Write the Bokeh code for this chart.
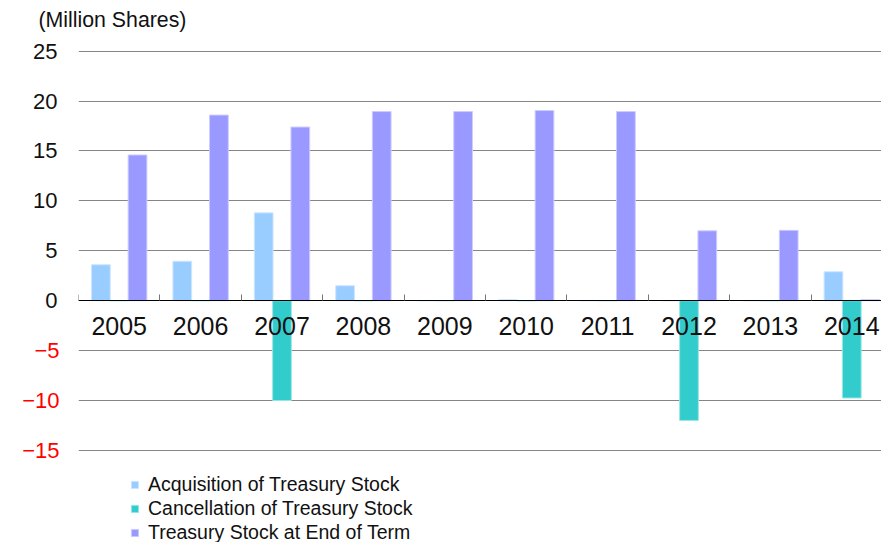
from bokeh.plotting import figure
from bokeh.models import (Range1d, FixedTicker, LinearAxis, Legend, LegendItem, Title,
                          ColumnDataSource, Grid, CustomJSTickFormatter)
from bokeh.transform import dodge
from bokeh.embed import file_html
from bokeh.resources import INLINE

years = ["2005", "2006", "2007", "2008", "2009", "2010", "2011", "2012", "2013", "2014"]
acquisition = [3.6, 3.95, 8.8, 1.5, 0.0, 0.1, 0.0, 0.0, 0.0, 2.9]
cancellation = [0.0, 0.0, -10.0, 0.0, 0.0, 0.0, 0.0, -12.0, 0.0, -9.75]
treasury_end = [14.6, 18.6, 17.4, 18.95, 18.95, 19.05, 18.95, 7.0, 7.05, 0.1]
y_ticks_pos = [0, 5, 10, 15, 20, 25]
y_ticks_neg = [-15, -10, -5]
unit_label = "(Million Shares)"
series_names = ["Acquisition of Treasury Stock", "Cancellation of Treasury Stock",
                "Treasury Stock at End of Term"]
colors = ["#99CCFF", "#33CCCC", "#9999FF"]
edge_colors = ["#CCE6FF", "#99E6E6", "#CCCCFF"]

n = len(years)
xc = [i + 0.5 for i in range(n)]
src = ColumnDataSource(dict(x=xc, acq=acquisition, can=cancellation, tre=treasury_end))

p = figure(width=881, height=542, x_range=Range1d(0, 9.865), y_range=Range1d(-24.23, 25.17),
           output_backend="svg", toolbar_location=None,
           x_axis_location=None, y_axis_location=None,
           min_border_left=78, min_border_right=0, min_border_top=49, min_border_bottom=0)
p.outline_line_color = None
p.center = []
p.title = None

# spacer (nearest to the frame), then the unit label above it
p.add_layout(Title(text=" ", text_font_size="1px", standoff=15), "above")
p.add_layout(Title(text=unit_label, text_font="Liberation Sans", text_font_size="21.3px",
                   text_font_style="normal", text_color="#111111", align="left",
                   offset=-40, standoff=0), "above")

# grid
all_ticks = y_ticks_neg + y_ticks_pos
p.add_layout(Grid(dimension=1, ticker=FixedTicker(ticks=all_ticks),
                  grid_line_color="#858585", grid_line_width=1))

# bars
offs = [-0.225, 0.0, 0.225]
cols = ["acq", "can", "tre"]
renderers = []
for off, col, c, ec in zip(offs, cols, colors, edge_colors):
    r = p.vbar(x=dodge("x", off), top=col, bottom=0, width=0.23, source=src,
               fill_color=c, line_color=ec, line_width=1)
    renderers.append(r)

# x axis at zero
xa = LinearAxis(fixed_location=0,
                ticker=FixedTicker(ticks=xc, minor_ticks=list(range(n + 1))),
                formatter=CustomJSTickFormatter(args=dict(years=years),
                                                code="return years[Math.floor(tick)] || '';"))
xa.axis_line_color = "black"
xa.axis_line_width = 1
xa.major_tick_line_color = None
xa.major_tick_in = 0
xa.major_tick_out = 0
xa.minor_tick_in = 6
xa.minor_tick_out = 0
xa.minor_tick_line_color = "#777777"
xa.major_label_text_font = "Liberation Sans"
xa.major_label_text_font_size = "25px"
xa.major_label_text_color = "#111111"
xa.major_label_standoff = 16
p.add_layout(xa, "below")

# y axes: positive labels (black, inner), negative labels (red, outer, pulled in)
ya = LinearAxis(ticker=FixedTicker(ticks=y_ticks_pos))
yn = LinearAxis(ticker=FixedTicker(ticks=y_ticks_neg))
for ax, tc, so in ((ya, "#111111", 21), (yn, "#FF0000", -29)):
    ax.axis_line_color = None
    ax.major_tick_line_color = None
    ax.minor_tick_line_color = None
    ax.major_tick_in = 0
    ax.major_tick_out = 0
    ax.minor_tick_in = 0
    ax.minor_tick_out = 0
    ax.major_label_text_font = "Liberation Sans"
    ax.major_label_text_font_size = "22px"
    ax.major_label_text_color = tc
    ax.major_label_standoff = so
p.add_layout(ya, "left")
p.add_layout(yn, "left")

legend = Legend(items=[LegendItem(label=nm, renderers=[r]) for nm, r in zip(series_names, renderers)],
                location=(52, -2), orientation="vertical",
                border_line_color=None, background_fill_alpha=0,
                padding=0, margin=0, spacing=1, label_height=20,
                glyph_height=9, glyph_width=9, label_standoff=9,
                label_text_font="Liberation Sans", label_text_font_size="19.5px",
                label_text_color="#111111")
p.add_layout(legend)

open("out.html", "w").write(file_html(p, INLINE))
